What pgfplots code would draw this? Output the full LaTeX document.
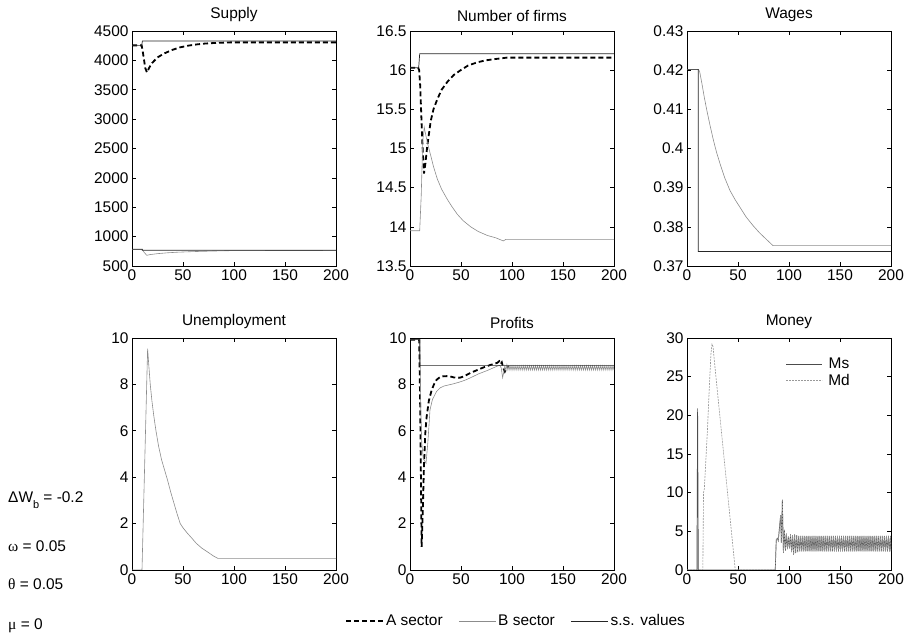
\documentclass[border=0pt]{standalone}
\usepackage{pgfplots}
\usepackage{pgfplotstable}
\pgfplotsset{compat=1.18}
\usepackage{fontspec}
\setmainfont{Liberation Sans}
\newfontfamily\grk{Liberation Serif}
\newcommand\fs{\fontsize{15.5}{18}\selectfont}
\pgfplotsset{
 panel/.style={scale only axis, width=204bp, xmin=0, xmax=200, xtick={0,50,100,150,200},
   tick align=inside, major tick length=4bp, axis line style={line width=0.8bp},
   tick style={black, line width=0.6bp},
   tick label style={font=\fs}, title style={font=\fs},
   /pgf/number format/assume math mode=true, /pgf/number format/1000 sep={},
   scaled ticks=false, clip=true,
   legend image code/.code={\draw[#1] (0bp,0bp) -- (37bp,0bp);}},
 toprow/.style={panel, height=235bp},
 botrow/.style={panel, height=232bp},
 Aline/.style={black, line width=1.8bp, dash pattern=on 5bp off 3bp},
 Bline/.style={black!45, line width=0.6bp},
 SSline/.style={black!85, line width=0.7bp},
 Msline/.style={black!70, line width=0.7bp},
 Mdline/.style={black!40, line width=0.6bp, dash pattern=on 2bp off 1bp},
}
\pgfplotstableread{
t v
86.5 0
87.5 3.9
88.7 4.1
89.5 3.8
91 6.0
91.8 7.1
92.5 3.5
93.5 9.1
94.5 2.2
95.5 5.2
96.5 2.5
97.5 4.7
98.5 2.7
99.5 4.3
100.5 2.8
101.5 4.6
102.5 2.3
103.5 4.5
104.5 2.0
105.5 4.6
106.5 2.2
107.5 4.5
108.5 2.3
109.5 4.4
110.5 2.4
111.5 4.4
112.5 2.4
113.5 4.4
114.5 2.4
115.5 4.4
116.5 2.4
117.5 4.4
118.5 2.4
119.5 4.4
120.5 2.4
121.5 4.4
122.5 2.4
123.5 4.4
124.5 2.4
125.5 4.4
126.5 2.4
127.5 4.4
128.5 2.4
129.5 4.4
130.5 2.4
131.5 4.4
132.5 2.4
133.5 4.4
134.5 2.4
135.5 4.4
136.5 2.4
137.5 4.4
138.5 2.4
139.5 4.4
140.5 2.4
141.5 4.4
142.5 2.4
143.5 4.4
144.5 2.4
145.5 4.4
146.5 2.4
147.5 4.4
148.5 2.4
149.5 4.4
150.5 2.4
151.5 4.4
152.5 2.4
153.5 4.4
154.5 2.4
155.5 4.4
156.5 2.4
157.5 4.4
158.5 2.4
159.5 4.4
160.5 2.4
161.5 4.4
162.5 2.4
163.5 4.4
164.5 2.4
165.5 4.4
166.5 2.4
167.5 4.4
168.5 2.4
169.5 4.4
170.5 2.4
171.5 4.4
172.5 2.4
173.5 4.4
174.5 2.4
175.5 4.4
176.5 2.4
177.5 4.4
178.5 2.4
179.5 4.4
180.5 2.4
181.5 4.4
182.5 2.4
183.5 4.4
184.5 2.4
185.5 4.4
186.5 2.4
187.5 4.4
188.5 2.4
189.5 4.4
190.5 2.4
191.5 4.4
192.5 2.4
193.5 4.4
194.5 2.4
195.5 4.4
196.5 2.4
197.5 4.4
198.5 2.4
199.5 4.4
200 2.4
}\moneytail
\begin{document}
\begin{tikzpicture}
\path[use as bounding box] (0,0) rectangle (912bp,633bp);

% ---------- Supply
\begin{axis}[toprow, at={(132bp,367bp)}, anchor=south west, title={Supply},
  ymin=500, ymax=4500, ytick={500,1000,1500,2000,2500,3000,3500,4000,4500}]
\addplot[Aline] coordinates {(0,4255)(9.5,4255)(11,4100)(13,3870)(14.7,3794)(17,3880)(19.6,3954)(25,4050)(31,4113)(39,4175)(47,4221)(55,4250)(63.6,4272)(72,4287)(80,4295)(90,4302)(96,4306)(200,4306)};
\addplot[Bline] coordinates {(0,784)(10,784)(12,730)(14.5,682)(18,695)(25,710)(35,725)(45,735)(60,745)(80,755)(100,762)(200,765)};
\addplot[SSline] coordinates {(0,4255)(9.5,4255)(10.2,4329)(200,4329)};
\addplot[SSline] coordinates {(0,784)(10,784)(10.1,767)(200,767)};
\end{axis}

% ---------- Number of firms
\begin{axis}[toprow, at={(410bp,367bp)}, anchor=south west, title={Number of firms},
  ymin=13.5, ymax=16.5, ytick={13.5,14,14.5,15,15.5,16,16.5}]
\addplot[Aline] coordinates {(0,16.03)(8,16.03)(9,16.0)(10,15.8)(12,15.1)(13.7,14.68)(15,14.8)(17,15.04)(20.3,15.35)(23,15.5)(26.8,15.63)(31,15.75)(36.6,15.85)(43,15.94)(49.7,16.0)(57,16.06)(66,16.1)(74,16.125)(82.4,16.14)(95,16.16)(200,16.16)};
\addplot[Bline] coordinates {(0,13.95)(9.5,13.95)(11,14.4)(12.5,15.1)(14,15.27)(15,15.2)(17.5,15.05)(20.3,14.91)(23,14.77)(26.8,14.61)(31,14.48)(36.6,14.35)(41,14.26)(46.4,14.16)(52,14.08)(59.5,14.0)(67,13.94)(75.8,13.89)(84,13.86)(91.5,13.82)(94,13.84)(200,13.84)};
\addplot[SSline] coordinates {(0,16.03)(8.5,16.03)(9.5,16.21)(200,16.21)};
\end{axis}

% ---------- Wages
\begin{axis}[toprow, at={(687bp,367bp)}, anchor=south west, title={Wages},
  ymin=0.37, ymax=0.43, ytick={0.37,0.38,0.39,0.4,0.41,0.42,0.43}]
\addplot[Bline] coordinates {(0,0.4202)(11.3,0.4202)(12.5,0.4195)(14.6,0.4166)(17,0.413)(19.4,0.4098)(22.5,0.406)(25.9,0.4021)(29,0.399)(32.4,0.3961)(37,0.3925)(42.1,0.3893)(47,0.387)(51.9,0.385)(58,0.3825)(64.8,0.3803)(71,0.3785)(77.8,0.3768)(84.3,0.3752)(200,0.3752)};
\addplot[SSline] coordinates {(0,0.4202)(11,0.4202)(11.01,0.3737)(200,0.3737)};
\end{axis}

% ---------- Unemployment
\begin{axis}[botrow, at={(132bp,63bp)}, anchor=south west, title={Unemployment},
  ymin=0, ymax=10, ytick={0,2,4,6,8,10}]
\addplot[Bline] coordinates {(0,0)(9.8,0)(15.3,9.54)(16.5,8.8)(17.9,8)(19.5,7.3)(21.5,6.6)(23.5,6)(26,5.35)(29,4.75)(32,4.3)(35,3.85)(38,3.35)(41,2.9)(44,2.45)(47.3,2)(50,1.82)(54,1.6)(58.7,1.37)(63,1.15)(68.5,0.94)(75,0.75)(80,0.6)(84.2,0.5)(200,0.5)};
\end{axis}

% ---------- Profits
\begin{axis}[botrow, at={(410bp,63bp)}, anchor=south west, title={Profits},
  ymin=0, ymax=10, ytick={0,2,4,6,8,10},
  legend columns=3,
  legend style={draw=none, fill=none, font=\fs, at={(0.52,-0.22)}, anchor=center,
    /tikz/every even column/.append style={column sep=14bp}}]
\addplot[Aline] coordinates {(0,9.93)(9,9.93)(10,7)(11.4,1.0)(12.5,2.5)(13.7,4.5)(15,5.9)(16.3,6.6)(18.5,7.3)(21.2,7.75)(23.5,8.0)(26.1,8.2)(29,8.3)(32.6,8.35)(38,8.36)(43,8.3)(49,8.29)(53,8.35)(59.5,8.5)(66,8.62)(72.5,8.74)(79,8.84)(85.6,8.93)(87.5,9.0)(89,8.88)(90,8.95)(91.5,8.7)(93,8.55)(95,8.72)(97,8.78)};
\addlegendentry{A sector}
\addplot[Bline] coordinates {(0,9.93)(9.8,9.93)(10.5,7.0)(11.5,5.5)(13,4.8)(15.7,4.6)(17.5,5.5)(19.6,6.9)(22,7.35)(26.1,7.7)(29.5,7.85)(33.3,7.93)(43,8.03)(47,8.08)(51.3,8.14)(55,8.2)(59.5,8.29)(67,8.45)(75.8,8.6)(81,8.7)(85.6,8.79)(88,8.82)(89.5,8.7)(90.8,8.29)(92,8.55)(93,8.8)(94,8.6)(95,8.85)
(96,8.62)(97,8.8)(98,8.62)(99,8.8)(100,8.62)(101,8.8)(102,8.62)(103,8.8)(104,8.62)(105,8.8)(106,8.62)(107,8.8)(108,8.62)(109,8.8)(110,8.62)(111,8.8)(112,8.62)(113,8.8)(114,8.62)(115,8.8)(116,8.62)(117,8.8)(118,8.62)(119,8.8)(120,8.62)(121,8.8)(122,8.62)(123,8.8)(124,8.62)(125,8.8)(126,8.62)(127,8.8)(128,8.62)(129,8.8)(130,8.62)(131,8.8)(132,8.62)(133,8.8)(134,8.62)(135,8.8)(136,8.62)(137,8.8)(138,8.62)(139,8.8)(140,8.62)(141,8.8)(142,8.62)(143,8.8)(144,8.62)(145,8.8)(146,8.62)(147,8.8)(148,8.62)(149,8.8)(150,8.62)(151,8.8)(152,8.62)(153,8.8)(154,8.62)(155,8.8)(156,8.62)(157,8.8)(158,8.62)(159,8.8)(160,8.62)(161,8.8)(162,8.62)(163,8.8)(164,8.62)(165,8.8)(166,8.62)(167,8.8)(168,8.62)(169,8.8)(170,8.62)(171,8.8)(172,8.62)(173,8.8)(174,8.62)(175,8.8)(176,8.62)(177,8.8)(178,8.62)(179,8.8)(180,8.62)(181,8.8)(182,8.62)(183,8.8)(184,8.62)(185,8.8)(186,8.62)(187,8.8)(188,8.62)(189,8.8)(190,8.62)(191,8.8)(192,8.62)(193,8.8)(194,8.62)(195,8.8)(196,8.62)(197,8.8)(198,8.62)(199,8.8)(200,8.62)};
\addlegendentry{B sector}
\addplot[SSline] coordinates {(0,9.93)(9.5,9.93)(9.6,8.81)(200,8.81)};
\addlegendentry{s.s. values}
\end{axis}

% ---------- Money
\begin{axis}[botrow, at={(687bp,63bp)}, anchor=south west, title={Money},
  ymin=0, ymax=30, ytick={0,5,10,15,20,25,30},
  legend style={draw=none, fill=none, font=\fs, at={(0.47,0.93)}, anchor=north west,
    nodes={inner sep=1.5bp}, row sep=1bp,
    /tikz/every odd column/.append style={column sep=4bp}},
  legend image code/.code={\draw[#1] (0bp,0bp) -- (36bp,0bp);}]
\addplot[Msline] coordinates {(0,0)(9.7,0)(10.4,20.9)(11.1,0)(86.5,0)};
\addlegendentry{Ms}
\addplot[Mdline] coordinates {(0,0)(15.5,0)(16.2,10)(17,10.5)(20,18)(22,24)(23.5,28)(24.5,29.2)(25.5,28.9)(27,26.8)(47.3,0)(86.5,0)};
\addlegendentry{Md}
\addplot[Msline, forget plot] table[x=t, y=v] {\moneytail};
\addplot[Mdline, forget plot] table[x=t, y=v] {\moneytail};
\end{axis}

% ---------- parameter annotations
\node[anchor=base west, inner sep=0, font=\fs] at (8bp,130bp) {ΔW\raisebox{-6bp}{\fontsize{11}{12}\selectfont b} = -0.2};
\node[anchor=base west, inner sep=0, font=\fs] at (8bp,81bp) {{\grk ω} = 0.05};
\node[anchor=base west, inner sep=0, font=\fs] at (8bp,43bp) {{\grk θ} = 0.05};
\node[anchor=base west, inner sep=0, font=\fs] at (8bp,4bp) {{\grk μ} = 0};
\end{tikzpicture}
\end{document}
